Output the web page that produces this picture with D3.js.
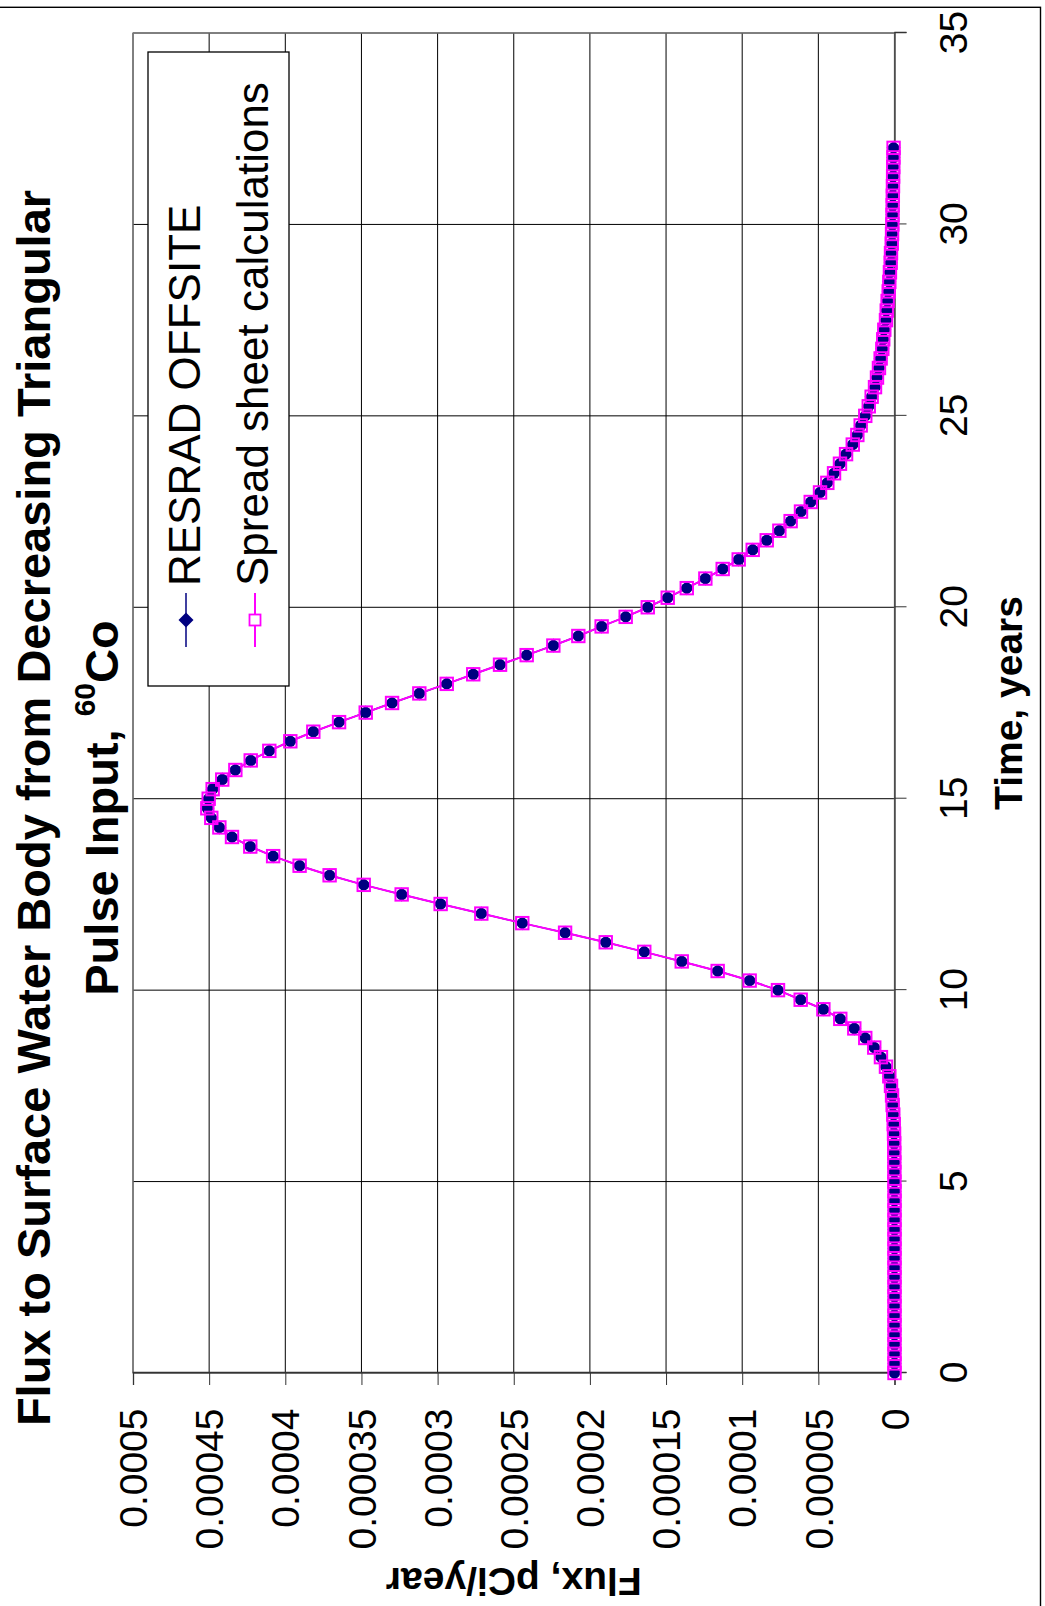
<!DOCTYPE html>
<html>
<head>
<meta charset="utf-8">
<script src="https://d3js.org/d3.v7.min.js"></script>
<style>
  html, body { margin: 0; padding: 0; background: #fff; }
  svg { display: block; }
  text { font-family: "Liberation Sans", Arial, sans-serif; }
</style>
</head>
<body>
<svg id="chart" width="1045" height="1606"></svg>
<script>
// ---- data ----
const chartTitleLine1 = "Flux to Surface Water Body from Decreasing Triangular";
const chartTitleLine2 = "Pulse Input, ";
const chartTitleSup = "60";
const chartTitleEnd = "Co";
const xAxisTitle = "Time, years";
const yAxisTitle = "Flux, pCi/year";
const seriesNames = ["RESRAD OFFSITE", "Spread sheet calculations"];

const times = [0,0.25,0.5,0.75,1,1.25,1.5,1.75,2,2.25,2.5,2.75,3,3.25,3.5,3.75,4,4.25,4.5,4.75,
  5,5.25,5.5,5.75,6,6.25,6.5,6.75,7,7.25,7.5,7.75,8,8.25,8.5,8.75,9,9.25,9.5,9.75,
  10,10.25,10.5,10.75,11,11.25,11.5,11.75,12,12.25,12.5,12.75,13,13.25,13.5,13.75,
  14,14.25,14.5,14.75,15,15.25,15.5,15.75,16,16.25,16.5,16.75,17,17.25,17.5,17.75,
  18,18.25,18.5,18.75,19,19.25,19.5,19.75,20,20.25,20.5,20.75,21,21.25,21.5,21.75,
  22,22.25,22.5,22.75,23,23.25,23.5,23.75,24,24.25,24.5,24.75,25,25.25,25.5,25.75,
  26,26.25,26.5,26.75,27,27.25,27.5,27.75,28,28.25,28.5,28.75,29,29.25,29.5,29.75,
  30,30.25,30.5,30.75,31,31.25,31.5,31.75,32];

const resradFlux = [0,0,0,0,0,0,0,0,0,0,0,0,0,0,0,0,0,0,0,0,
  0.05e-6,0.08e-6,0.1e-6,0.15e-6,0.2e-6,0.3e-6,0.5e-6,0.8e-6,
  1.2e-6,1.6e-6,2.3e-6,3.4e-6,5.6e-6,8.9e-6,13.3e-6,19.2e-6,
  26.4e-6,35.6e-6,46.7e-6,61.6e-6,
  76.5e-6,95.1e-6,116.1e-6,139.7e-6,
  164.3e-6,189.6e-6,216.3e-6,244.4e-6,
  271.3e-6,298.0e-6,323.6e-6,348.5e-6,
  370.9e-6,390.6e-6,408.0e-6,423.0e-6,
  435.0e-6,443.3e-6,448.6e-6,451.2e-6,
  450.3e-6,447.7e-6,441.4e-6,432.8e-6,
  422.7e-6,410.5e-6,396.7e-6,381.6e-6,
  364.7e-6,347.2e-6,329.9e-6,312.0e-6,
  294.0e-6,276.6e-6,259.0e-6,241.5e-6,
  224.0e-6,207.6e-6,192.3e-6,176.5e-6,
  162.0e-6,148.9e-6,136.4e-6,124.2e-6,
  112.8e-6,102.3e-6,93.1e-6,83.9e-6,
  75.6e-6,68.2e-6,61.4e-6,55.0e-6,
  48.9e-6,44.1e-6,39.7e-6,35.8e-6,
  31.8e-6,27.4e-6,24.4e-6,22.2e-6,
  19.2e-6,16.9e-6,15.0e-6,12.8e-6,
  11.5e-6,10.2e-6,9.1e-6,8.0e-6,
  7.4e-6,6.7e-6,5.6e-6,5.1e-6,
  4.5e-6,3.8e-6,3.4e-6,3.0e-6,
  2.5e-6,2.3e-6,1.8e-6,1.6e-6,
  1.4e-6,1.3e-6,1.2e-6,1.1e-6,
  1.0e-6,0.9e-6,0.8e-6,0.7e-6,
  0.6e-6];

const spreadFlux = [0,0,0,0,0,0,0,0,0,0,0,0,0,0,0,0,0,0,0,0,
  0.05e-6,0.08e-6,0.1e-6,0.15e-6,0.2e-6,0.3e-6,0.5e-6,0.8e-6,
  1.2e-6,1.6e-6,2.3e-6,3.4e-6,5.6e-6,8.9e-6,13.3e-6,19.2e-6,
  26.4e-6,35.6e-6,46.7e-6,61.6e-6,
  76.5e-6,95.1e-6,116.1e-6,139.7e-6,
  164.3e-6,189.6e-6,216.3e-6,244.4e-6,
  271.3e-6,298.0e-6,323.6e-6,348.5e-6,
  370.9e-6,390.6e-6,408.0e-6,423.0e-6,
  435.0e-6,443.3e-6,448.6e-6,451.2e-6,
  450.3e-6,447.7e-6,441.4e-6,432.8e-6,
  422.7e-6,410.5e-6,396.7e-6,381.6e-6,
  364.7e-6,347.2e-6,329.9e-6,312.0e-6,
  294.0e-6,276.6e-6,259.0e-6,241.5e-6,
  224.0e-6,207.6e-6,192.3e-6,176.5e-6,
  162.0e-6,148.9e-6,136.4e-6,124.2e-6,
  112.8e-6,102.3e-6,93.1e-6,83.9e-6,
  75.6e-6,68.2e-6,61.4e-6,55.0e-6,
  48.9e-6,44.1e-6,39.7e-6,35.8e-6,
  31.8e-6,27.4e-6,24.4e-6,22.2e-6,
  19.2e-6,16.9e-6,15.0e-6,12.8e-6,
  11.5e-6,10.2e-6,9.1e-6,8.0e-6,
  7.4e-6,6.7e-6,5.6e-6,5.1e-6,
  4.5e-6,3.8e-6,3.4e-6,3.0e-6,
  2.5e-6,2.3e-6,1.8e-6,1.6e-6,
  1.4e-6,1.3e-6,1.2e-6,1.1e-6,
  1.0e-6,0.9e-6,0.8e-6,0.7e-6,
  0.6e-6];

const timeTicks = [0,5,10,15,20,25,30,35];
const fluxTicks = [0,0.00005,0.0001,0.00015,0.0002,0.00025,0.0003,0.00035,0.0004,0.00045,0.0005];
const fluxTickLabels = ["0","0.00005","0.0001","0.00015","0.0002","0.00025","0.0003","0.00035","0.0004","0.00045","0.0005"];

// ---- layout (landscape chart, then rotated -90deg onto the page) ----
const PAGE_H = 1606;
const plot = { left: 233, right: 1573, top: 133, bottom: 894.5 };
const navy = "#000080", magenta = "#FF00FF";

const svg = d3.select("#chart");
svg.append("rect").attr("width", 1045).attr("height", 1606).attr("fill", "#fff");

const g = svg.append("g").attr("transform", `translate(0,${PAGE_H}) rotate(-90)`);

// outer chart border
g.append("rect")
  .attr("x", -20).attr("y", -20)
  .attr("width", 1598.7 + 20).attr("height", 1040.5 + 20)
  .attr("fill", "none").attr("stroke", "#000").attr("stroke-width", 1.4);

const x = d3.scaleLinear().domain([0, 35]).range([plot.left, plot.right]);
const y = d3.scaleLinear().domain([0, 0.0005]).range([plot.bottom, plot.top]);

// gridlines
g.append("g").selectAll("line").data(timeTicks).join("line")
  .attr("x1", d => x(d)).attr("x2", d => x(d))
  .attr("y1", plot.top).attr("y2", plot.bottom)
  .attr("stroke", "#000").attr("stroke-width", 1);
g.append("g").selectAll("line").data(fluxTicks).join("line")
  .attr("x1", plot.left).attr("x2", plot.right)
  .attr("y1", d => y(d)).attr("y2", d => y(d))
  .attr("stroke", "#000").attr("stroke-width", 1);

// plot area border
g.append("rect")
  .attr("x", plot.left).attr("y", plot.top)
  .attr("width", plot.right - plot.left).attr("height", plot.bottom - plot.top)
  .attr("fill", "none").attr("stroke", "#808080").attr("stroke-width", 1.3);

// axes
const xAxis = d3.axisBottom(x).tickValues(timeTicks).tickSize(12).tickPadding(0)
  .tickFormat(d3.format("d"));
const gx = g.append("g").attr("transform", `translate(0,${plot.bottom})`).call(xAxis);
gx.select(".domain").attr("stroke", "#333").attr("stroke-width", 1.3);
gx.selectAll(".tick line").attr("stroke", "#333").attr("stroke-width", 1);
gx.selectAll(".tick text")
  .attr("y", 72.5).attr("dy", null)
  .attr("font-size", 39).attr("font-family", "Liberation Sans, Arial, sans-serif").attr("fill", "#000");

const yAxis = d3.axisLeft(y).tickValues(fluxTicks).tickSize(12).tickPadding(23.5)
  .tickFormat((d, i) => fluxTickLabels[i]);
const gy = g.append("g").attr("transform", `translate(${plot.left},0)`).call(yAxis);
gy.select(".domain").attr("stroke", "#333").attr("stroke-width", 1.3);
gy.selectAll(".tick line").attr("stroke", "#333").attr("stroke-width", 1);
gy.selectAll(".tick text")
  .attr("dy", "0.35em")
  .attr("font-size", 39).attr("font-family", "Liberation Sans, Arial, sans-serif").attr("fill", "#000");

// series lines
const line = d3.line().x(d => x(d[0])).y(d => y(d[1]));
const resradPts = times.map((t, i) => [t, resradFlux[i]]);
const spreadPts = times.map((t, i) => [t, spreadFlux[i]]);

g.append("path").datum(resradPts).attr("d", line)
  .attr("fill", "none").attr("stroke", navy).attr("stroke-width", 1.5);
g.append("path").datum(spreadPts).attr("d", line)
  .attr("fill", "none").attr("stroke", magenta).attr("stroke-width", 2);

// markers
const diamond = s => `M0,${-s}L${s},0L0,${s}L${-s},0Z`;
const rm = g.append("g").selectAll("g").data(resradPts).join("g")
  .attr("transform", d => `translate(${x(d[0])},${y(d[1])})`);
rm.append("path").attr("d", diamond(7)).attr("fill", navy);
rm.append("circle").attr("r", 5.6).attr("fill", navy);

g.append("g").selectAll("rect").data(spreadPts).join("rect")
  .attr("x", d => x(d[0]) - 6.2).attr("y", d => y(d[1]) - 6.2)
  .attr("width", 12.4).attr("height", 12.4)
  .attr("fill", "none").attr("stroke", magenta).attr("stroke-width", 2);

// axis titles
g.append("text")
  .attr("x", (plot.left + plot.right) / 2).attr("y", 1022)
  .attr("text-anchor", "middle").attr("font-weight", "bold").attr("font-size", 39)
  .text(xAxisTitle);
g.append("text")
  .attr("transform", `translate(38,${(plot.top + plot.bottom) / 2}) rotate(-90)`)
  .attr("text-anchor", "middle").attr("font-weight", "bold").attr("font-size", 39)
  .text(yAxisTitle);

// chart title
const titleCx = 798;
g.append("text")
  .attr("x", titleCx).attr("y", 50)
  .attr("text-anchor", "middle").attr("font-weight", "bold").attr("font-size", 47)
  .text(chartTitleLine1);
const t2 = g.append("text")
  .attr("x", titleCx).attr("y", 118.3)
  .attr("text-anchor", "middle").attr("font-weight", "bold").attr("font-size", 47);
t2.append("tspan").text(chartTitleLine2);
t2.append("tspan").attr("font-size", 30).attr("dy", -23).text(chartTitleSup);
t2.append("tspan").attr("dy", 23).text(chartTitleEnd);

// legend
const lg = g.append("g");
lg.append("rect")
  .attr("x", 920).attr("y", 148).attr("width", 1554 - 920).attr("height", 289 - 148)
  .attr("fill", "#fff").attr("stroke", "#000").attr("stroke-width", 1.3);
const legendRows = [
  { name: seriesNames[0], color: navy, cy: 186, base: 200 },
  { name: seriesNames[1], color: magenta, cy: 255, base: 268.3 }
];
legendRows.forEach((r, i) => {
  lg.append("line").attr("x1", 959).attr("x2", 1013).attr("y1", r.cy).attr("y2", r.cy)
    .attr("stroke", r.color).attr("stroke-width", i === 0 ? 1.5 : 2);
  if (i === 0) {
    lg.append("path").attr("d", diamond(7.5)).attr("transform", `translate(986,${r.cy})`).attr("fill", navy);
  } else {
    lg.append("rect").attr("x", 986 - 5.5).attr("y", r.cy - 5.5).attr("width", 11).attr("height", 11)
      .attr("fill", "#fff").attr("stroke", magenta).attr("stroke-width", 1.8);
  }
  lg.append("text").attr("x", 1020).attr("y", r.base)
    .attr("font-size", 44).text(r.name);
});
</script>
</body>
</html>
